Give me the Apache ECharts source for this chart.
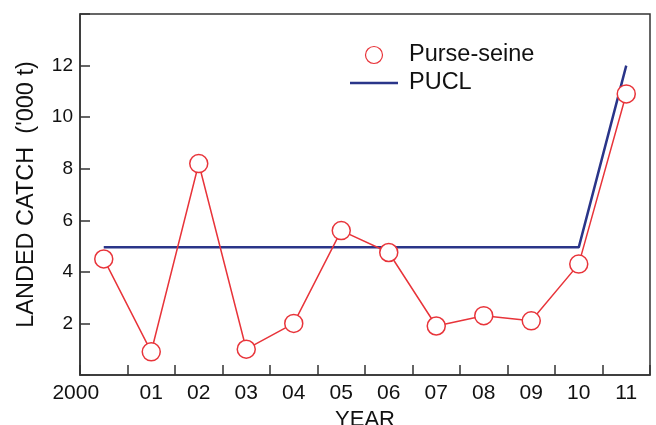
<!DOCTYPE html>
<html>
<head>
<meta charset="utf-8">
<script src="https://cdn.jsdelivr.net/npm/echarts@6/dist/echarts.min.js"></script>
<style>
html,body{margin:0;padding:0;background:#fff;}
#chart{width:656px;height:425px;}
</style>
</head>
<body>
<div id="chart"></div>
<script>
var years = ['2000','01','02','03','04','05','06','07','08','09','10','11'];
var purseSeine = [4.5, 0.9, 8.2, 1.0, 2.0, 5.6, 4.75, 1.9, 2.3, 2.1, 4.3, 10.9];
var pucl = [4.95, 4.95, 4.95, 4.95, 4.95, 4.95, 4.95, 4.95, 4.95, 4.95, 4.95, 12.0];
var yTicks = [2, 4, 6, 8, 10, 12];

var RED = '#e8343a';
var BLUE = '#2a3589';
var AXIS = '#333333';
var FONT = 'Liberation Sans, Arial, sans-serif';

var chart = echarts.init(document.getElementById('chart'));
chart.setOption({
  backgroundColor: '#ffffff',
  animation: false,
  grid: {
    left: 80, right: 6, top: 14, bottom: 50,
    containLabel: false,
    outerBoundsMode: 'none',
    show: true, borderColor: AXIS, borderWidth: 1.5, backgroundColor: 'transparent'
  },
  legend: {
    orient: 'vertical',
    left: 350, top: 43,
    padding: 0,
    itemWidth: 48, itemHeight: 17, itemGap: 4,
    textStyle: { fontFamily: FONT, fontSize: 23.5, color: '#111', padding: [0, 0, 0, 6] },
    data: [
      { name: 'Purse-seine', icon: 'circle',
        itemStyle: { color: '#ffffff', borderColor: RED, borderWidth: 1.2 } },
      { name: 'PUCL', icon: 'path://M0,0 L48,0 L48,2.6 L0,2.6 Z',
        itemStyle: { color: BLUE, borderWidth: 0 } }
    ]
  },
  xAxis: {
    type: 'category',
    data: years,
    boundaryGap: true,
    name: 'YEAR',
    nameLocation: 'middle',
    nameGap: 33,
    nameTextStyle: { fontFamily: FONT, fontSize: 22, color: '#111' },
    axisLine: { lineStyle: { color: AXIS, width: 1.5 } },
    axisTick: { show: true, inside: true, length: 10, interval: 0, lineStyle: { color: AXIS, width: 1.5 } },
    axisLabel: {
      interval: 0, margin: 8,
      fontFamily: FONT, fontSize: 21, color: '#111',
      formatter: function (v) { return v === '2000' ? '{a|' + v + '}' : v; },
      rich: { a: { fontFamily: FONT, fontSize: 21, color: '#111', padding: [0, 56, 0, 0] } }
    },
    splitLine: { show: false }
  },
  yAxis: {
    type: 'value',
    min: 0, max: 14, interval: 2,
    name: "LANDED CATCH  ('000 t)",
    nameLocation: 'middle',
    nameGap: 41,
    nameTextStyle: { fontFamily: FONT, fontSize: 23.5, color: '#111' },
    axisLine: { show: true, lineStyle: { color: AXIS, width: 1.5 } },
    axisTick: { show: true, inside: true, length: 10, lineStyle: { color: AXIS, width: 1.5 } },
    axisLabel: {
      margin: 7, fontFamily: FONT, fontSize: 19, color: '#111',
      formatter: function (v) { return yTicks.indexOf(v) >= 0 ? String(v) : ''; }
    },
    splitLine: { show: false }
  },
  series: [
    {
      name: 'PUCL', type: 'line', data: pucl,
      symbol: 'none',
      lineStyle: { color: BLUE, width: 2.5 },
      itemStyle: { color: BLUE },
      z: 2
    },
    {
      name: 'Purse-seine', type: 'line', data: purseSeine,
      symbol: 'circle', symbolSize: 18,
      lineStyle: { color: RED, width: 1.5 },
      itemStyle: { color: '#ffffff', borderColor: RED, borderWidth: 1.5 },
      z: 3
    }
  ]
});
</script>
</body>
</html>
